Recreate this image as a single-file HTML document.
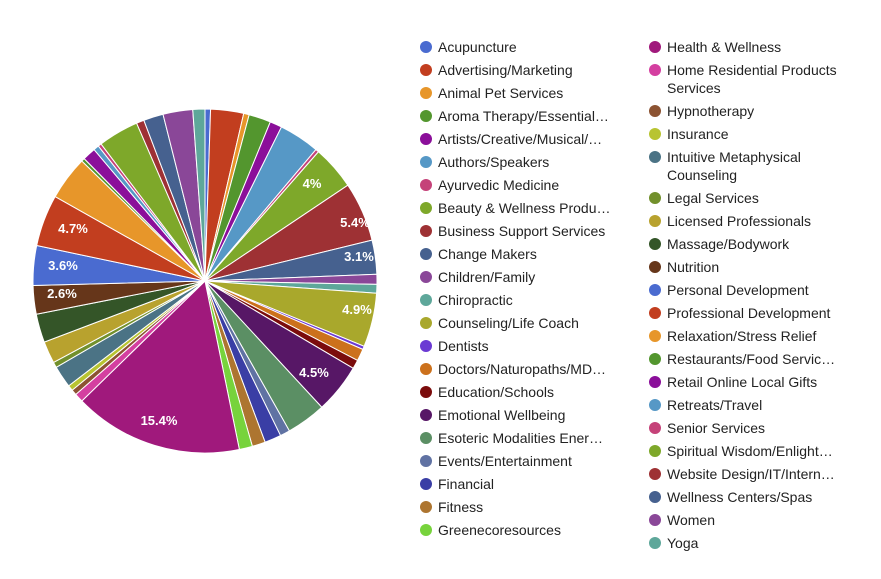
<!DOCTYPE html>
<html><head><meta charset="utf-8"><style>
body{margin:0;background:#fff;width:881px;height:579px;overflow:hidden;font-family:"Liberation Sans",Arial,sans-serif;}
.lg{position:absolute;font-size:14px;color:#222;line-height:18px;}
.lg i{position:absolute;left:-18px;top:3px;width:12px;height:12px;border-radius:50%;}
</style></head><body>
<svg id="pie" width="881" height="579" style="position:absolute;left:0;top:0"></svg>
<div id="leg"></div>
<script>
var d=[
["Acupuncture","#4a6bd0",0.5],["Advertising/Marketing","#c23e1f",3],["Animal Pet Services","#e7962a",0.5],["Aroma Therapy/Essential…","#53962e",2],["Artists/Creative/Musical/…","#8b0f9a",1.1],["Authors/Speakers","#5698c6",3.7],["Ayurvedic Medicine","#c54279",0.3],["Beauty & Wellness Produ…","#7ea82a",4],["Business Support Services","#9e3134",5.4],["Change Makers","#46618f",3.1],["Children/Family","#8a4798",0.9],["Chiropractic","#5ea79a",0.8],["Counseling/Life Coach","#a9a82c",4.9],["Dentists","#6b3ad3",0.3],["Doctors/Naturopaths/MD…","#cc711c",1.1],["Education/Schools","#7b0c0c",0.8],["Emotional Wellbeing","#571766",4.5],["Esoteric Modalities Ener…","#5b8f64",3.6],["Events/Entertainment","#6072a3",0.9],["Financial","#3a3ea5",1.5],["Fitness","#ad7530",1.2],["Greenecoresources","#77d33c",1.2],["Health & Wellness","#a0197c",15.4],["Home Residential Products Services","#d43fa0",0.8],["Hypnotherapy","#8c5332",0.5],["Insurance","#b8c431",0.5],["Intuitive Metaphysical Counseling","#4b7385",2],["Legal Services","#72902c",0.5],["Licensed Professionals","#b8a22e",2],["Massage/Bodywork","#345528",2.6],["Nutrition","#66361a",2.6],["Personal Development","#4a6bd0",3.6],["Professional Development","#c23e1f",4.7],["Relaxation/Stress Relief","#e7962a",4],["Restaurants/Food Servic…","#53962e",0.3],["Retail Online Local Gifts","#8b0f9a",1.2],["Retreats/Travel","#5698c6",0.5],["Senior Services","#c54279",0.3],["Spiritual Wisdom/Enlight…","#7ea82a",3.7],["Website Design/IT/Intern…","#9e3134",0.7],["Wellness Centers/Spas","#46618f",1.8],["Women","#8a4798",2.7],["Yoga","#5ea79a",1.1]];
var tot=0;d.forEach(function(e){tot+=e[2]});
var cx=205,cy=281,r=172,a=0,s="";
d.forEach(function(e){var b=a+e[2]/tot*2*Math.PI;
var x1=cx+r*Math.sin(a),y1=cy-r*Math.cos(a),x2=cx+r*Math.sin(b),y2=cy-r*Math.cos(b);
s+='<path d="M'+cx+' '+cy+'L'+x1.toFixed(2)+' '+y1.toFixed(2)+'A'+r+' '+r+' 0 '+((b-a)>Math.PI?1:0)+' 1 '+x2.toFixed(2)+' '+y2.toFixed(2)+'Z" fill="'+e[1]+'" stroke="#fff" stroke-width="1"/>';a=b;});
var L=[["4%",312,188],["5.4%",355,227],["3.1%",359,261],["4.9%",357,314],["4.5%",314,377],["15.4%",159,425],["2.6%",62,298],["3.6%",63,270],["4.7%",73,233]];
L.forEach(function(l){s+='<text x="'+l[1]+'" y="'+l[2]+'" text-anchor="middle" fill="#fff" font-size="13" font-weight="bold" font-family="Liberation Sans,Arial,sans-serif">'+l[0]+'</text>';});
document.getElementById('pie').innerHTML=s;
var h="",y=38;
for(var i=0;i<22;i++){h+='<div class="lg" style="left:438px;top:'+(38+i*23)+'px"><i style="background:'+d[i][1]+'"></i>'+d[i][0]+'</div>';}
for(var i=22;i<d.length;i++){var two=(i==23||i==26);
var t=d[i][0];if(i==23)t="Home Residential Products<br>Services";if(i==26)t="Intuitive Metaphysical<br>Counseling";
h+='<div class="lg" style="left:667px;top:'+y+'px;width:200px"><i style="background:'+d[i][1]+'"></i>'+t+'</div>';y+=two?41:23;}
document.getElementById('leg').innerHTML=h;
</script>
</body></html>
